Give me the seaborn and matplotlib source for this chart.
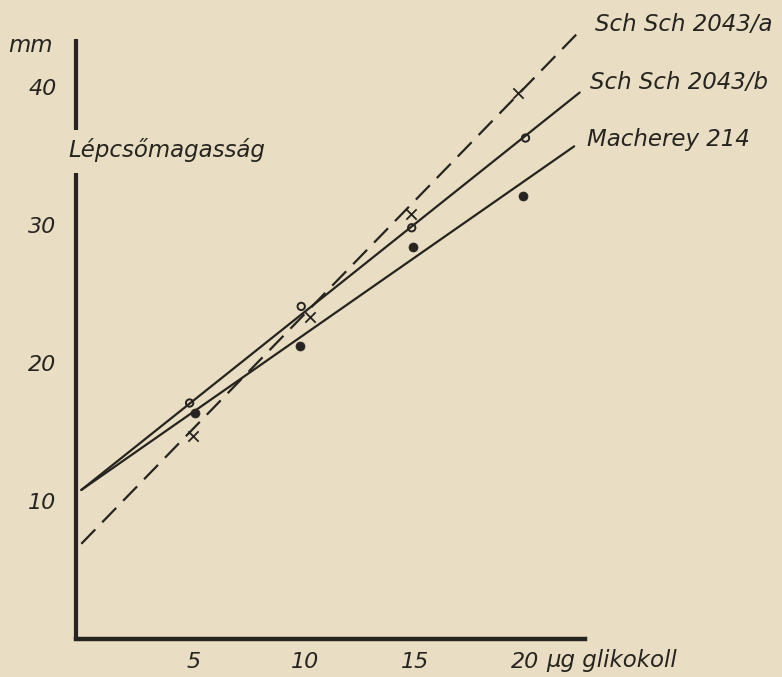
import numpy as np
import pandas as pd
import matplotlib
matplotlib.use("Agg")
import matplotlib.pyplot as plt
import seaborn as sns

# ---- data ----
series_names = ["Sch Sch 2043/a", "Sch Sch 2043/b", "Macherey 214"]

a_x = [4.95, 10.25, 14.8, 19.65]
a_y = [14.7, 23.3, 30.8, 39.6]
b_x = [4.8, 9.85, 14.85, 20.0]
b_y = [17.1, 24.1, 29.8, 36.3]
m_x = [5.05, 9.8, 14.9, 19.9]
m_y = [16.4, 21.2, 28.4, 32.1]

a_line_x = [-0.1, 22.6]
a_line_y = [6.9, 44.3]
b_line_x = [-0.1, 22.45]
b_line_y = [10.8, 39.6]
m_line_x = [-0.1, 22.2]
m_line_y = [10.8, 35.7]

x_ticks = [5, 10, 15, 20]
y_ticks = [10, 20, 30, 40]
y_title = "Lépcsőmagasság"
y_unit = "mm"
x_unit = "µg glikokoll"

# ---- style ----
BG = "#e9dec3"
INK = "#262420"
sns.set_theme(style="white")
plt.rcParams["font.family"] = ["DejaVu Sans"]
plt.rcParams["font.style"] = "italic"

fig = plt.figure(figsize=(7.82, 6.77), dpi=100, facecolor=BG)
x0, x1 = -0.35, 22.7
y0, y1 = 0.0, 45.0
ax = fig.add_axes([75.8 / 782, 38 / 677, (585.2 - 75.8) / 782, 621 / 677])
ax.set_facecolor("none")
ax.set_xlim(x0, x1)
ax.set_ylim(y0, y1)

lines = pd.DataFrame({
    "x": a_line_x + b_line_x + m_line_x,
    "y": a_line_y + b_line_y + m_line_y,
    "series": [series_names[0]] * 2 + [series_names[1]] * 2 + [series_names[2]] * 2,
})
sns.lineplot(data=lines, x="x", y="y", hue="series", style="series",
             palette=[INK] * 3,
             dashes={series_names[0]: (9, 4.5), series_names[1]: "", series_names[2]: ""},
             legend=False, lw=1.6, ax=ax, clip_on=False)

sns.scatterplot(x=a_x, y=a_y, marker="x", s=55, color=INK, linewidth=1.3, ax=ax)
sns.scatterplot(x=b_x, y=b_y, marker="o", s=28, facecolor="none", edgecolor=INK,
                linewidth=1.4, ax=ax)
sns.scatterplot(x=m_x, y=m_y, marker="o", s=42, color=INK, edgecolor=INK,
                linewidth=0.5, ax=ax)

# axes
for s in ["top", "right", "left"]:
    ax.spines[s].set_visible(False)
ax.spines["bottom"].set_linewidth(3.2)
ax.spines["bottom"].set_color(INK)
ax.spines["bottom"].set_bounds(x0, x1)
ax.plot([x0, x0], [0, 33.8], color=INK, lw=3.0, solid_capstyle="butt", clip_on=False)
ax.plot([x0, x0], [36.9, 43.5], color=INK, lw=3.0, solid_capstyle="butt", clip_on=False)

tick_font = dict(fontsize=16, fontstyle="italic", color=INK)
ax.set_xticks(x_ticks)
ax.set_xticklabels([str(t) for t in x_ticks], **tick_font)
ax.set_yticks(y_ticks)
ax.set_yticklabels([str(t) for t in y_ticks], **tick_font)
ax.tick_params(axis="x", direction="out", length=7, width=1.3, color=INK, pad=2)
ax.tick_params(axis="y", direction="out", length=10, width=1.3, color=INK, pad=4)
ax.set_xlabel("")
ax.set_ylabel("")

# texts
txt = dict(fontsize=16.5, fontstyle="italic", color=INK, va="center", clip_on=False)
ax.text(-0.7, 35.4, y_title, ha="left", **txt)
ax.text(-3.4, 43.0, y_unit, ha="left", **txt)
ax.text(20.95, -1.55, x_unit, ha="left", **txt)
ax.text(23.15, 44.5, series_names[0], ha="left", **txt)
ax.text(22.9, 40.3, series_names[1], ha="left", **txt)
ax.text(22.8, 36.2, series_names[2], ha="left", **txt)

fig.savefig("out.png", dpi=100, facecolor=BG)
